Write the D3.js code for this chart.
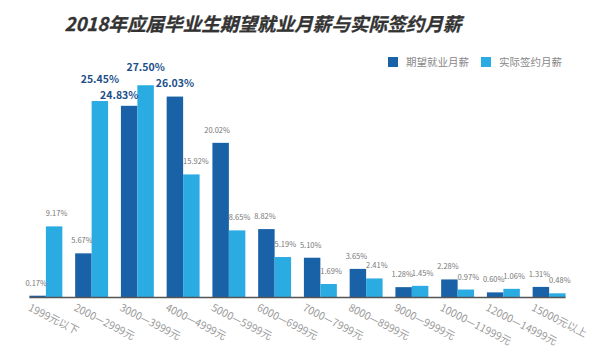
<!DOCTYPE html>
<html>
<head>
<meta charset="utf-8">
<script src="https://cdn.jsdelivr.net/npm/d3@7/dist/d3.min.js"></script>
<style>
  body { margin: 0; background: #fff; }
  svg { display: block; font-family: "Noto Sans CJK SC", "Noto Sans", sans-serif; }
</style>
</head>
<body>
<svg id="chart"></svg>
<script>
// salary ranges (x categories)
var categories = ["1999元以下", "2000—2999元", "3000—3999元", "4000—4999元", "5000—5999元",
  "6000—6999元", "7000—7999元", "8000—8999元", "9000—9999元", "10000—11999元",
  "12000—14999元", "15000元以上"];

// share of graduates, %
var expected = [0.17, 5.67, 24.83, 26.03, 20.02, 8.82, 5.10, 3.65, 1.28, 2.28, 0.60, 1.31];
var actual = [9.17, 25.45, 27.50, 15.92, 8.65, 5.19, 1.69, 2.41, 1.45, 0.97, 1.06, 0.48];

var seriesNames = ["期望就业月薪", "实际签约月薪"];
var colors = ["#1a62a8", "#2aabe2"];

var width = 600, height = 353;
var baseY = 297;

var svg = d3.select("#chart")
  .attr("width", width)
  .attr("height", height);

// title
svg.append("text")
  .attr("x", 263)
  .attr("y", 31)
  .attr("text-anchor", "middle")
  .attr("font-size", 18.6)
  .attr("font-weight", "bold")
  .attr("font-style", "italic")
  .attr("fill", "#333")
  .attr("stroke", "#333")
  .attr("stroke-width", 0.3)
  .text("2018年应届毕业生期望就业月薪与实际签约月薪");

// legend
var legend = svg.append("g").attr("transform", "translate(388,57)");
seriesNames.forEach(function(name, i) {
  var g = legend.append("g").attr("transform", `translate(${i * 93},0)`);
  g.append("rect").attr("width", 10).attr("height", 10).attr("fill", colors[i]);
  g.append("text")
    .attr("x", 18).attr("y", 9)
    .attr("font-size", 10.5)
    .attr("fill", "#888")
    .text(name);
});

var x = d3.scaleBand()
  .domain(categories)
  .range([23, 572])
  .paddingInner(0.28)
  .paddingOuter(0.14);

var x1 = d3.scaleBand()
  .domain([0, 1])
  .range([0, x.bandwidth()]);

var y = d3.scaleLinear()
  .domain([0, 30])
  .range([baseY, baseY - 231]);

var rows = categories.map(function(c, i) {
  return { cat: c, values: [expected[i], actual[i]] };
});

var groups = svg.selectAll(".grp")
  .data(rows)
  .join("g")
  .attr("class", "grp")
  .attr("transform", d => `translate(${x(d.cat)},0)`);

groups.selectAll("rect")
  .data(d => d.values.map((v, k) => ({ k: k, v: v, other: d.values[1 - k] })))
  .join("rect")
  .attr("x", d => x1(d.k))
  .attr("y", d => y(d.v))
  .attr("width", x1.bandwidth())
  .attr("height", d => baseY - y(d.v))
  .attr("fill", d => colors[d.k]);

// big labels are centred, unless the neighbour bar is taller (then pushed aside)
function centred(d) {
  return d.v >= 24 && !(d.k === 0 && d.other > d.v);
}

// value labels
var labels = groups.selectAll("text.val")
  .data(d => d.values.map((v, k) => ({ k: k, v: v, other: d.values[1 - k] })))
  .join("text")
  .attr("class", "val")
  .attr("y", d => y(d.v) - (d.v >= 24 && !centred(d) ? 7 : 10))
  .attr("x", function(d) {
    if (centred(d)) return x1(d.k) + x1.bandwidth() / 2;
    return d.k === 0 ? x1(d.k) + x1.bandwidth() + 1 : x1(d.k);
  })
  .attr("text-anchor", function(d) {
    if (centred(d)) return "middle";
    return d.k === 0 ? "end" : "start";
  })
  .attr("font-size", d => d.v >= 24 ? 10.5 : 7.5)
  .attr("font-weight", d => d.v >= 24 ? "bold" : "normal")
  .attr("fill", d => d.v >= 24 ? "#1d4f8a" : "#777")
  .text(d => d3.format(".2f")(d.v) + "%");

// nudge overlapping bold labels: the left one goes up
var nodes = labels.filter(d => d.v >= 24).nodes();
function box(n) {
  var b = n.getBBox();
  var t = n.parentNode.transform.baseVal.consolidate().matrix;
  return { x0: b.x + t.e, x1: b.x + b.width + t.e, y0: b.y, y1: b.y + b.height };
}
for (var i = 0; i < nodes.length; i++) {
  for (var j = i + 1; j < nodes.length; j++) {
    var a = box(nodes[i]), b = box(nodes[j]);
    if (a.x1 > b.x0 && b.x1 > a.x0 && a.y1 > b.y0 && b.y1 > a.y0) {
      var lift = Math.min(a.y1 - b.y0, b.y1 - a.y0);
      var s = d3.select(nodes[i]);
      s.attr("y", +s.attr("y") - lift - 1);
    }
  }
}

// baseline
svg.append("line")
  .attr("x1", x(categories[0]))
  .attr("x2", x(categories[categories.length - 1]) + x.bandwidth())
  .attr("y1", baseY + 0.5)
  .attr("y2", baseY + 0.5)
  .attr("stroke", "#555")
  .attr("stroke-width", 1.5);

// rotated category labels
svg.selectAll("text.cat")
  .data(categories)
  .join("text")
  .attr("class", "cat")
  .attr("font-size", 10.5)
  .attr("fill", "#9a9a9a")
  .attr("transform", d => `translate(${x(d) - 2},${baseY + 13}) rotate(27)`)
  .text(d => d);
</script>
</body>
</html>
